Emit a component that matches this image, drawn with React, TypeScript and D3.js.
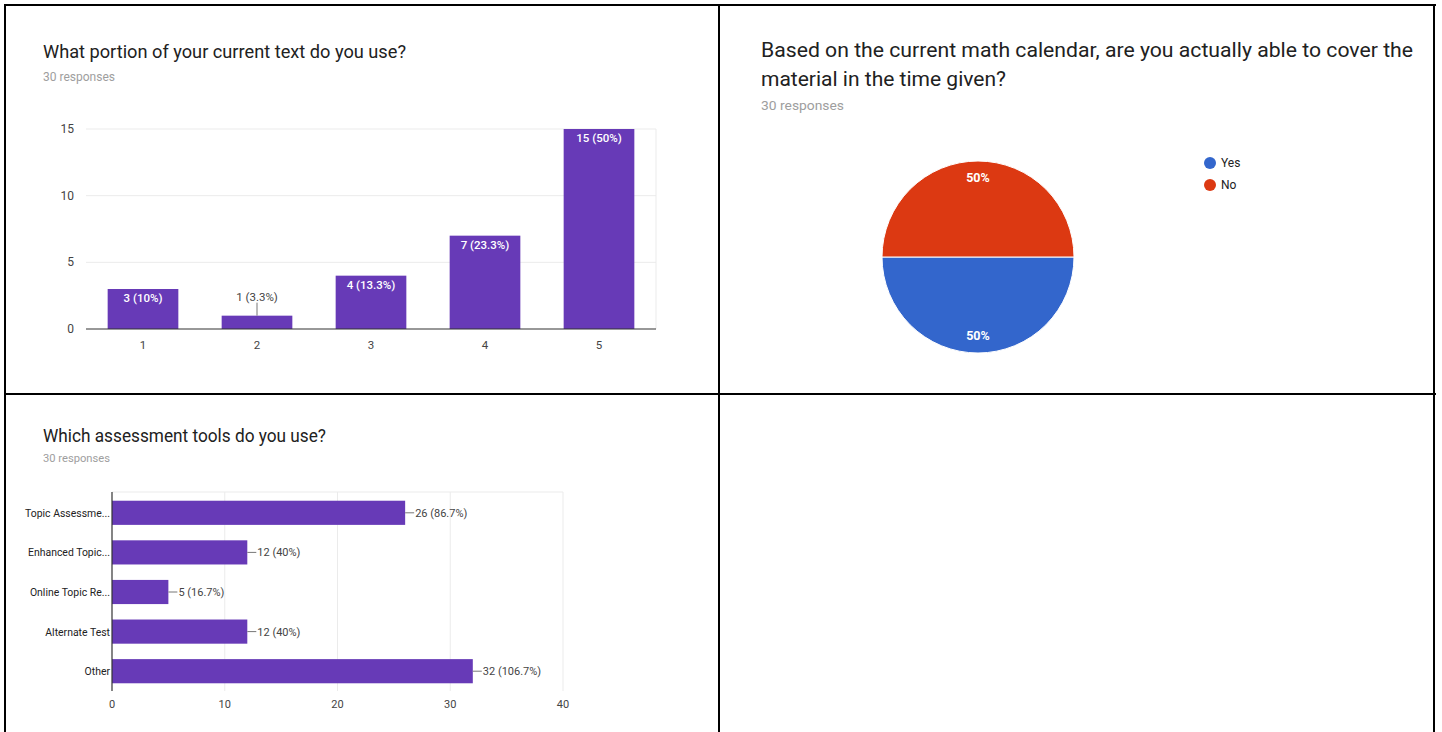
import React from "react";
import * as d3 from "d3";

const textPortionCats = ["1", "2", "3", "4", "5"];
const textPortionCounts = [3, 1, 4, 7, 15];
const textPortionLabels = ["3 (10%)", "1 (3.3%)", "4 (13.3%)", "7 (23.3%)", "15 (50%)"];
const textPortionTicks = [0, 5, 10, 15];

const pieCats = ["Yes", "No"];
const pieValues = [15, 15];
const pieLabels = ["50%", "50%"];
const pieColors = ["#3366cc", "#dc3912"];

const toolCats = ["Topic Assessme...", "Enhanced Topic...", "Online Topic Re...", "Alternate Test", "Other"];
const toolCounts = [26, 12, 5, 12, 32];
const toolLabels = ["26 (86.7%)", "12 (40%)", "5 (16.7%)", "12 (40%)", "32 (106.7%)"];
const toolTicks = [0, 10, 20, 30, 40];

const PURPLE = "#673ab7";
const GRID = "#ebebeb";
const FONT = "Roboto, 'Noto Sans', sans-serif";

export default function App() {
  // Chart 1
  const x1 = d3.scaleBand<string>().domain(textPortionCats).range([86, 656]).paddingInner(0.38).paddingOuter(0.19);
  const y1 = d3.scaleLinear().domain([0, 15]).range([329, 129]);

  // Chart 2
  const pieGen = d3.pie<number>().sort(null).startAngle(Math.PI / 2).endAngle(Math.PI / 2 + 2 * Math.PI);
  const arcs = pieGen(pieValues);
  const R = 96;
  const arcGen = d3.arc<d3.PieArcDatum<number>>().innerRadius(0).outerRadius(R);
  const labelArc = d3.arc<d3.PieArcDatum<number>>().innerRadius(R * 0.82).outerRadius(R * 0.82);
  const cx = 978, cy = 257;

  // Chart 3
  const x3 = d3.scaleLinear().domain([0, 40]).range([112, 563]);
  const y3 = d3.scaleBand<string>().domain(toolCats).range([493, 691]).paddingInner(0.39).paddingOuter(0.195);

  return (
    <svg width={1442} height={732} style={{ position: "absolute", left: 0, top: 0, display: "block", background: "#fff" }} fontFamily={FONT}>
      <rect x={0} y={0} width={1442} height={732} fill="#fff" />

      {/* Chart 1 */}
      <text x={43} y={58} fontSize={19} fill="#212121" textLength={363} lengthAdjust="spacingAndGlyphs">What portion of your current text do you use?</text>
      <text x={43} y={81} fontSize={12} fill="#9e9e9e" textLength={72} lengthAdjust="spacingAndGlyphs">30 responses</text>
      {textPortionTicks.filter((t) => t > 0).map((t) => (
        <line key={"g1" + t} x1={86} x2={656} y1={y1(t)} y2={y1(t)} stroke={GRID} />
      ))}
      <line x1={656} x2={656} y1={y1(15)} y2={y1(0)} stroke={GRID} />
      {textPortionTicks.map((t) => (
        <text key={"t1" + t} x={74} y={y1(t) + 4} fontSize={12} fill="#444" textAnchor="end">{t}</text>
      ))}
      {textPortionCats.map((c, i) => {
        const v = textPortionCounts[i];
        const bx = x1(c)!;
        const bw = x1.bandwidth();
        const top = y1(v);
        const h = y1(0) - top;
        const mid = bx + bw / 2;
        const inside = h > 20;
        return (
          <g key={"b1" + c}>
            <rect x={bx} y={top} width={bw} height={h} fill={PURPLE} />
            {inside ? (
              <text x={mid} y={top + 13} fontSize={11.5} fill="#fff" fontWeight={500} textAnchor="middle">{textPortionLabels[i]}</text>
            ) : (
              <g>
                <line x1={mid} x2={mid} y1={top - 13} y2={top} stroke="#777" />
                <text x={mid} y={top - 15} fontSize={11.5} fill="#444" textAnchor="middle">{textPortionLabels[i]}</text>
              </g>
            )}
            <text x={mid} y={349} fontSize={11.5} fill="#444" textAnchor="middle">{c}</text>
          </g>
        );
      })}
      <line x1={86} x2={656} y1={y1(0)} y2={y1(0)} stroke="#333" strokeWidth={1.2} />

      {/* Chart 2 */}
      <text x={761} y={57} fontSize={20} fill="#212121" textLength={652} lengthAdjust="spacingAndGlyphs">Based on the current math calendar, are you actually able to cover the</text>
      <text x={761} y={86} fontSize={20} fill="#212121" textLength={245} lengthAdjust="spacingAndGlyphs">material in the time given?</text>
      <text x={761} y={110} fontSize={13} fill="#9e9e9e" textLength={83} lengthAdjust="spacingAndGlyphs">30 responses</text>
      <g transform={`translate(${cx},${cy})`}>
        {arcs.map((a, i) => (
          <path key={"p" + i} d={arcGen(a)!} fill={pieColors[i]} stroke="#fff" strokeWidth={1} />
        ))}
        {arcs.map((a, i) => {
          const [lx, ly] = labelArc.centroid(a);
          return (
            <text key={"pl" + i} x={lx} y={ly + 4} fontSize={12.5} fontWeight={700} fill="#fff" textAnchor="middle">{pieLabels[i]}</text>
          );
        })}
      </g>
      {pieCats.map((c, i) => (
        <g key={"lg" + c}>
          <circle cx={1210} cy={163 + i * 22} r={6} fill={pieColors[i]} />
          <text x={1221} y={167 + i * 22} fontSize={12} fill="#222">{c}</text>
        </g>
      ))}

      {/* Chart 3 */}
      <text x={43} y={442} fontSize={18} fill="#212121" textLength={283} lengthAdjust="spacingAndGlyphs">Which assessment tools do you use?</text>
      <text x={43} y={462} fontSize={11.5} fill="#9e9e9e" textLength={67} lengthAdjust="spacingAndGlyphs">30 responses</text>
      <line x1={112} x2={563} y1={492} y2={492} stroke={GRID} />
      {toolTicks.filter((t) => t > 0).map((t) => (
        <line key={"g3" + t} x1={x3(t)} x2={x3(t)} y1={492} y2={691} stroke={GRID} />
      ))}
      {toolTicks.map((t) => (
        <text key={"t3" + t} x={x3(t)} y={708} fontSize={11} fill="#444" textAnchor="middle">{t}</text>
      ))}
      {toolCats.map((c, i) => {
        const v = toolCounts[i];
        const by = y3(c)!;
        const bh = y3.bandwidth();
        const end = x3(v);
        const mid = by + bh / 2;
        return (
          <g key={"b3" + c}>
            <rect x={x3(0)} y={by} width={end - x3(0)} height={bh} fill={PURPLE} />
            <line x1={end} x2={end + 9} y1={mid} y2={mid} stroke="#777" />
            <text x={end + 10} y={mid + 4} fontSize={11} fill="#444">{toolLabels[i]}</text>
            <text transform={`translate(110,${mid + 4}) scale(0.95,1)`} fontSize={11} fill="#222" textAnchor="end">{c}</text>
          </g>
        );
      })}
      <line x1={112} x2={112} y1={492} y2={691} stroke="#333" strokeWidth={1.2} />

      {/* Table borders */}
      <g stroke="#000" strokeWidth={2}>
        <line x1={4} x2={1436} y1={5} y2={5} />
        <line x1={4} x2={1436} y1={394} y2={394} />
        <line x1={5} x2={5} y1={4} y2={732} />
        <line x1={719} x2={719} y1={4} y2={732} />
        <line x1={1434} x2={1434} y1={4} y2={732} />
      </g>
    </svg>
  );
}
